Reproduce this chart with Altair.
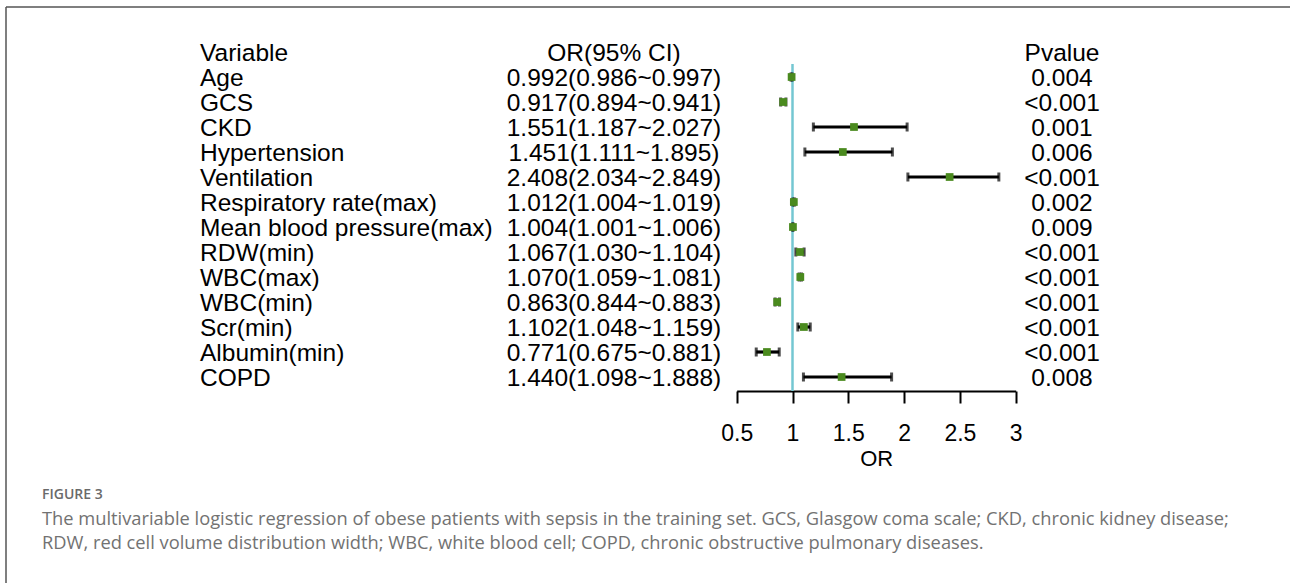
import altair as alt
import pandas as pd

# Multivariable logistic regression results
variables = [
    "Age", "GCS", "CKD", "Hypertension", "Ventilation", "Respiratory rate(max)",
    "Mean blood pressure(max)", "RDW(min)", "WBC(max)", "WBC(min)", "Scr(min)",
    "Albumin(min)", "COPD",
]
odds_ratio = [0.992, 0.917, 1.551, 1.451, 2.408, 1.012, 1.004, 1.067, 1.070, 0.863, 1.102, 0.771, 1.440]
ci_lower = [0.986, 0.894, 1.187, 1.111, 2.034, 1.004, 1.001, 1.030, 1.059, 0.844, 1.048, 0.675, 1.098]
ci_upper = [0.997, 0.941, 2.027, 1.895, 2.849, 1.019, 1.006, 1.104, 1.081, 0.883, 1.159, 0.881, 1.888]
p_values = ["0.004", "<0.001", "0.001", "0.006", "<0.001", "0.002", "0.009",
            "<0.001", "<0.001", "<0.001", "<0.001", "<0.001", "0.008"]
headers = ["Variable", "OR(95% CI)", "Pvalue"]
x_ticks = [0.5, 1, 1.5, 2, 2.5, 3]

caption_label = "FIGURE 3"
caption_lines = [
    "The multivariable logistic regression of obese patients with sepsis in the training set. "
    "GCS, Glasgow coma scale; CKD, chronic kidney disease;",
    "RDW, red cell volume distribution width; WBC, white blood cell; "
    "COPD, chronic obstructive pulmonary diseases.",
]

n = len(variables)
rows = list(range(1, n + 1))

forest = pd.DataFrame({
    "row": rows,
    "variable": variables,
    "or": odds_ratio,
    "lo": ci_lower,
    "hi": ci_upper,
})

table = pd.DataFrame({
    "row": [0] + rows,
    "variable": [headers[0]] + variables,
    "ci": [headers[1]] + [f"{o:.3f}({l:.3f}~{h:.3f})" for o, l, h in zip(odds_ratio, ci_lower, ci_upper)],
    "p": [headers[2]] + p_values,
})

FONT = "Liberation Sans"
TXT = 24.5
GREEN = "#4a8a1e"
CYAN = "#74c7d2"

y_enc = alt.Y("row:Q", scale=alt.Scale(domain=[0, n], range=[52, 377]), axis=None)
x_scale = alt.Scale(domain=[0.5, 3], range=[736.7, 1015.7], nice=False, zero=False)
x_axis = alt.Axis(
    values=x_ticks, format="~g", grid=False,
    domainColor="black", domainWidth=2,
    tickColor="black", tickWidth=2, tickSize=12,
    labelFont=FONT, labelFontSize=23, labelColor="black", labelPadding=19,
    labelFlush=False, labelOverlap=False,
    title="OR", titleFont=FONT, titleFontSize=22, titleFontWeight="normal",
    titleColor="black", titlePadding=3,
)

one = pd.DataFrame({"k": [0]})

ref_line = alt.Chart(one).mark_rule(color=CYAN, strokeWidth=2.5).encode(
    x=alt.X(datum=1, scale=x_scale, axis=x_axis),
    y=alt.value(64), y2=alt.value(391),
)

base = alt.Chart(forest)
ci_bar = base.mark_rule(color="black", strokeWidth=3.2).encode(
    x=alt.X("lo:Q", scale=x_scale), x2="hi:Q", y=y_enc,
)
cap_lo = base.mark_tick(color="black", orient="vertical", size=9, thickness=3).encode(
    x=alt.X("lo:Q", scale=x_scale), y=y_enc,
)
cap_hi = base.mark_tick(color="black", orient="vertical", size=9, thickness=3).encode(
    x=alt.X("hi:Q", scale=x_scale), y=y_enc,
)
point = base.mark_square(color=GREEN, size=60, opacity=1).encode(
    x=alt.X("or:Q", scale=x_scale), y=y_enc,
)

tbase = alt.Chart(table)
txt_kw = dict(font=FONT, fontSize=TXT, color="black", baseline="middle", dy=1.5)
col_var = tbase.mark_text(align="left", **txt_kw).encode(
    x=alt.value(200), y=y_enc, text="variable:N")
col_ci = tbase.mark_text(align="center", **txt_kw).encode(
    x=alt.value(614), y=y_enc, text="ci:N")
col_p = tbase.mark_text(align="center", **txt_kw).encode(
    x=alt.value(1062), y=y_enc, text="p:N")

# Figure frame (top and left edges)
frame_top = alt.Chart(one).mark_rule(color="#555555", strokeWidth=1.5).encode(
    x=alt.value(6), x2=alt.value(1290), y=alt.value(7))
frame_left = alt.Chart(one).mark_rule(color="#555555", strokeWidth=1.5).encode(
    x=alt.value(6), y=alt.value(7), y2=alt.value(583))

# Caption below the plot
cap_title = alt.Chart(pd.DataFrame({"t": [caption_label]})).mark_text(
    align="left", baseline="alphabetic", font="Open Sans", fontSize=14,
    fontWeight=600, color="#6a6a6a",
).encode(x=alt.value(42), y=alt.value(499), text="t:N")
cap_l1 = alt.Chart(pd.DataFrame({"t": [caption_lines[0]]})).mark_text(
    align="left", baseline="alphabetic", font="Open Sans", fontSize=18.3, color="#727272",
).encode(x=alt.value(42), y=alt.value(525), text="t:N")
cap_l2 = alt.Chart(pd.DataFrame({"t": [caption_lines[1]]})).mark_text(
    align="left", baseline="alphabetic", font="Open Sans", fontSize=18.3, color="#727272",
).encode(x=alt.value(42), y=alt.value(549), text="t:N")

chart = alt.layer(
    frame_top, frame_left,
    ref_line, ci_bar, cap_lo, cap_hi, point,
    col_var, col_ci, col_p,
    cap_title, cap_l1, cap_l2,
).properties(
    width=1290, height=391,
    padding={"left": 0, "top": 0, "right": 0, "bottom": 192},
    autosize=alt.AutoSizeParams(type="none"),
    background="white",
).configure_view(stroke=None)

chart.save("out.html", embed_options={"renderer": "svg", "actions": False})
